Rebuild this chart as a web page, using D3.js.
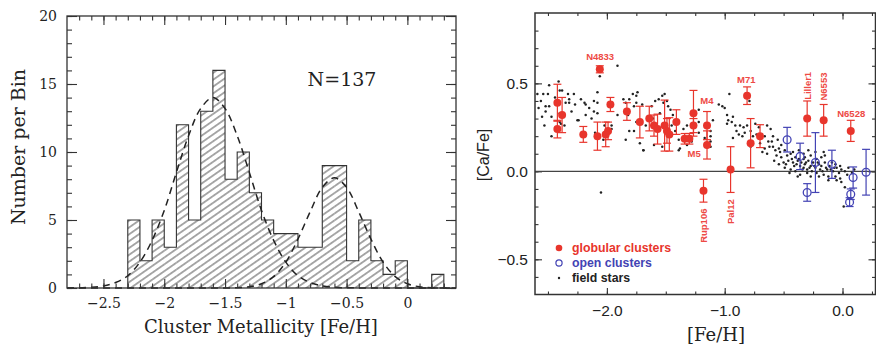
<!DOCTYPE html>
<html><head><meta charset="utf-8">
<script src="https://cdn.jsdelivr.net/npm/d3@7"></script>
<style>body{margin:0;background:#fff}</style>
</head><body>
<svg id="c" width="876" height="346" xmlns="http://www.w3.org/2000/svg"></svg>
<script>
// ---------- Left panel data: histogram of cluster metallicities ----------
const binStarts = [-2.3,-2.2,-2.1,-2.0,-1.9,-1.8,-1.7,-1.6,-1.5,-1.4,-1.3,-1.2,-1.1,-1.0,-0.9,-0.8,-0.7,-0.6,-0.5,-0.4,-0.3,-0.2,-0.1,0.0,0.1,0.2];
const binCounts = [5,2,5,3,12,5,13,16,8,10,7,5,4,4,3,3,9,9,2,5,2,1,2,0,0,1];
const binWidth = 0.1;
const fitFe = [-2.8,-2.7,-2.6,-2.5,-2.4,-2.3,-2.2,-2.1,-2.0,-1.9,-1.8,-1.7,-1.6,-1.5,-1.4,-1.3,-1.2,-1.1,-1.0,-0.9,-0.8,-0.7,-0.6,-0.5,-0.4,-0.3,-0.2,-0.1,0.0,0.1,0.2,0.3,0.4];
const fitMetalPoor = [0.005,0.02,0.05,0.15,0.4,0.9,1.9,3.5,5.7,8.5,11.2,13.2,14.0,13.2,11.2,8.5,5.7,3.5,1.9,0.9,0.4,0.15,0.05,0.02,0.005,0,0,0,0,0,0,0,0];
const fitMetalRich = [0,0,0,0,0,0,0,0,0,0,0,0,0,0.005,0.02,0.09,0.31,0.84,1.9,3.6,5.6,7.4,8.1,7.4,5.6,3.6,1.9,0.84,0.31,0.09,0.02,0.005,0];
const histXTicks = [-2.5,-2,-1.5,-1,-0.5,0];
const histYTicks = [0,5,10,15,20];
const histTitleN = "N=137";

// ---------- Right panel data: [Ca/Fe] vs [Fe/H] ----------
const gcFe  = [-2.42,-2.42,-2.38,-2.20,-2.08,-2.06,-2.01,-1.99,-1.97,-1.83,-1.72,-1.64,-1.60,-1.57,-1.51,-1.49,-1.47,-1.41,-1.34,-1.30,-1.265,-1.265,-1.15,-1.15,-1.18,-0.95,-0.81,-0.78,-0.70,-0.30,-0.16,0.07];
const gcCa  = [0.39,0.24,0.32,0.21,0.20,0.58,0.21,0.23,0.38,0.34,0.28,0.30,0.26,0.24,0.26,0.23,0.21,0.28,0.185,0.185,0.33,0.26,0.26,0.15,-0.11,0.01,0.43,0.16,0.20,0.30,0.29,0.23];
const gcErr = [0.105,0.05,0.10,0.045,0.08,0.02,0.07,0.05,0.04,0.05,0.09,0.07,0.06,0.085,0.145,0.07,0.095,0.07,0.03,0.03,0.13,0.04,0.08,0.08,0.065,0.13,0.05,0.14,0.065,0.10,0.09,0.06];
const ocFe  = [-0.47,-0.36,-0.30,-0.23,-0.09,0.09,0.07,0.06,0.20];
const ocCa  = [0.18,0.085,-0.12,0.05,0.04,-0.035,-0.13,-0.175,-0.005];
const ocErr = [0.07,0.075,0.05,0.17,0.08,0.06,0.03,0.025,0.13];
const fieldStars = [
[-2.59,0.44],[-2.54,0.44],[-2.50,0.44],[-2.49,0.49],[-2.41,0.51],[-2.40,0.46],[-2.38,0.46],[-2.33,0.44],[-2.28,0.44],[-2.32,0.41],
[-2.32,0.39],[-2.52,0.37],[-2.49,0.37],[-2.35,0.39],[-2.52,0.34],[-2.47,0.31],[-2.40,0.33],[-2.40,0.28],[-2.39,0.27],[-2.47,0.20],
[-2.36,0.26],[-2.25,0.29],[-2.24,0.29],[-2.19,0.39],[-2.18,0.38],[-2.18,0.32],[-2.11,0.40],[-2.08,0.39],[-2.11,0.34],[-2.08,0.33],
[-2.06,0.54],[-2.08,0.45],[-2.02,0.26],[-2.03,0.18],[-1.96,0.26],[-1.96,0.24],[-1.91,0.60],[-1.91,0.32],[-1.86,0.41],[-1.81,0.41],
[-1.84,0.39],[-1.78,0.44],[-1.75,0.43],[-1.74,0.45],[-1.77,0.37],[-1.70,0.38],[-1.75,0.39],[-1.82,0.32],[-1.75,0.28],[-1.81,0.23],
[-1.77,0.23],[-1.84,0.18],[-1.72,0.16],[-1.69,0.12],[-1.67,0.26],[-2.05,-0.12],
[-2.58,0.36],[-2.56,0.40],[-2.55,0.31],[-2.53,0.26],[-2.44,0.42],[-2.30,0.34],[-2.27,0.38],[-2.22,0.41],[-2.15,0.36],[-2.13,0.30],[-2.10,0.22],
[-1.62,0.37],[-1.59,0.40],[-1.56,0.41],[-1.53,0.43],[-1.51,0.44],[-1.52,0.39],[-1.49,0.40],[-1.61,0.30],[-1.55,0.33],[-1.48,0.37],
[-1.46,0.35],[-1.44,0.32],[-1.45,0.26],[-1.42,0.23],[-1.39,0.18],[-1.35,0.24],[-1.32,0.26],[-1.39,0.12],[-1.32,0.15],[-1.22,0.22],
[-1.22,0.28],[-1.22,0.35],[-1.12,0.23],[-1.12,0.20],[-1.12,0.17],[-1.12,0.14],[-1.10,0.29],[-1.05,0.38],[-1.02,0.37],[-1.00,0.36],
[-0.96,0.44],[-0.98,0.32],[-0.97,0.29],[-0.94,0.28],[-0.93,0.31],[-0.91,0.26],[-0.98,0.27],[-0.90,0.23],[-0.87,0.26],[-0.88,0.21],
[-0.84,0.25],[-0.85,0.20],[-0.83,0.22],[-0.81,0.26],[-0.93,0.19],[-0.76,0.20],[-0.78,0.23],[-0.74,0.27],[-0.73,0.21],[-0.71,0.25],
[-0.70,0.16],[-0.68,0.11],[-0.66,0.20],[-0.64,0.26],[-0.63,0.17],[-0.79,0.40],[-0.64,0.10],[-0.78,0.14],
[-1.69,0.12],[-1.60,0.15],[-1.53,0.14],[-1.38,0.13],[-1.28,0.17],[-1.17,0.19],
[-0.60,0.17],[-0.59,0.14],[-0.57,0.12],[-0.54,0.13],[-0.53,0.11],[-0.56,0.09],[-0.52,0.08],[-0.49,0.12],[-0.47,0.09],[-0.46,0.06],
[-0.44,0.10],[-0.43,0.07],[-0.42,0.05],[-0.40,0.08],[-0.39,0.04],[-0.37,0.07],[-0.36,0.03],[-0.35,0.05],[-0.33,0.07],[-0.33,0.02],
[-0.32,0.04],[-0.30,0.01],[-0.29,0.06],[-0.27,0.03],[-0.26,0.00],[-0.25,0.05],[-0.23,0.02],[-0.22,-0.01],[-0.20,0.04],[-0.19,0.01],
[-0.18,0.03],[-0.16,-0.02],[-0.15,0.05],[-0.13,0.01],[-0.12,-0.03],[-0.11,0.03],[-0.08,0.00],[-0.06,-0.03],[-0.05,0.02],[-0.03,-0.01],
[-0.02,-0.04],[-0.01,0.01],[0.02,0.00],[0.04,-0.02],[-0.50,0.05],[-0.54,0.04],[-0.49,0.02],[-0.44,0.01],[-0.42,0.11],[-0.37,0.12],
[-0.33,0.10],[-0.27,0.09],[-0.22,0.07],[-0.18,0.08],[-0.15,0.09],[-0.09,0.05],[-0.06,0.04],[-0.02,0.03],[0.05,0.02],[-0.27,-0.03],
[-0.36,-0.02],[-0.40,0.00],[-0.05,-0.05],[-0.01,-0.06],[0.02,-0.09],[0.01,-0.20],[-0.32,0.08],[-0.23,0.11],[-0.16,0.11],[-0.29,0.12],
[-0.59,0.20],[-0.61,0.24],[-0.48,0.04],[-0.41,0.03],[-0.38,0.06],[-0.34,0.01],[-0.31,0.05],[-0.28,0.02],[-0.24,0.03],[-0.21,0.05],
[-0.17,0.00],[-0.14,0.02],[-0.10,0.01],[-0.07,0.02],[0.08,-0.01],[0.10,0.01],[-0.52,0.15],[-0.55,0.18],[-0.62,0.14],[-0.66,0.13],
[-0.58,0.06],[-0.45,-0.01],[-0.38,-0.03],[-0.30,-0.01],[-0.20,-0.03],[-0.12,-0.05]
];
const labelNames = ["N4833","M4","M5","M71","N6528","Liller1","N6553","Rup106","Pal12"];
const labelFe    = [-2.057,-1.151,-1.259,-0.817,0.074,-0.294,-0.161,-1.18,-0.947];
const labelCa    = [0.65,0.402,0.10,0.52,0.329,0.486,0.482,-0.309,-0.229];
const labelVertical = [false,false,false,false,false,true,true,true,true];
const scatterXTicks = [-2,-1,0];
const scatterYTicks = [-0.5,0,0.5];
const legendItems = ["globular clusters","open clusters","field stars"];

// ---------- drawing ----------
const svg = d3.select("#c");
const RED = "#e8352c", RED_LBL = "#ee4a45", BLUE = "#4343b4";

// Left panel
const L = {x0:67, x1:456, y0:16, y1:288};
const hx = d3.scaleLinear().domain([-2.8,0.4]).range([L.x0,L.x1]);
const hy = d3.scaleLinear().domain([0,20]).range([L.y1,L.y0]);

const defs = svg.append("defs");
const pat = defs.append("pattern").attr("id","hatch").attr("patternUnits","userSpaceOnUse")
  .attr("width",10).attr("height",5.6).attr("patternTransform","rotate(-35)");
pat.append("line").attr("x1",0).attr("x2",10).attr("y1",2.8).attr("y2",2.8)
  .attr("stroke","#3a3a3a").attr("stroke-width",0.9);

const gL = svg.append("g");
gL.selectAll("rect.bar").data(binStarts).join("rect").attr("class","bar")
  .attr("x",d=>hx(d)).attr("width",d=>hx(d+binWidth)-hx(d))
  .attr("y",(d,i)=>hy(binCounts[i])).attr("height",(d,i)=>hy(0)-hy(binCounts[i]))
  .attr("fill","url(#hatch)");

const outline = [[binStarts[0],0]];
binStarts.forEach((d,i)=>{ outline.push([d,binCounts[i]]); outline.push([d+binWidth,binCounts[i]]); });
outline.push([binStarts[binStarts.length-1]+binWidth,0]);
gL.append("path").attr("d",d3.line().x(d=>hx(d[0])).y(d=>hy(d[1]))(outline))
  .attr("fill","none").attr("stroke","#333").attr("stroke-width",1.1);

const fitLine = d3.line().x((d,i)=>hx(fitFe[i])).y(d=>hy(d)).curve(d3.curveCatmullRom);
[fitMetalPoor,fitMetalRich].forEach(arr=>{
  gL.append("path").attr("d",fitLine(arr)).attr("fill","none").attr("stroke","#222")
    .attr("stroke-width",1.5).attr("stroke-dasharray","7,5");
});

function styleAxis(g, font, size, weight){
  g.select(".domain").remove();
  g.selectAll("line").attr("stroke","#333").attr("stroke-width",1.1);
  g.selectAll("text").attr("font-family",font).attr("font-size",size).attr("font-weight",weight||"normal").attr("fill","#222");
}
const minorHX = d3.range(-27,4).map(k=>k/10);
const minorHY = d3.range(0,21);
const fmtH = d => d3.format("")(d).replace("-","−");
gL.append("g").attr("transform",`translate(0,${L.y1})`).call(d3.axisBottom(hx).tickValues(minorHX).tickSize(-4.5).tickFormat("")).call(styleAxis);
gL.append("g").attr("transform",`translate(0,${L.y1})`).call(d3.axisBottom(hx).tickValues(histXTicks).tickSize(-9).tickPadding(10).tickFormat(fmtH)).call(g=>styleAxis(g,"DejaVu Serif",14));
gL.append("g").attr("transform",`translate(0,${L.y0})`).call(d3.axisTop(hx).tickValues(minorHX).tickSize(-4.5).tickFormat("")).call(styleAxis);
gL.append("g").attr("transform",`translate(0,${L.y0})`).call(d3.axisTop(hx).tickValues(histXTicks).tickSize(-9).tickFormat("")).call(styleAxis);
gL.append("g").attr("transform",`translate(${L.x0},0)`).call(d3.axisLeft(hy).tickValues(minorHY).tickSize(-5).tickFormat("")).call(styleAxis);
gL.append("g").attr("transform",`translate(${L.x0},0)`).call(d3.axisLeft(hy).tickValues(histYTicks).tickSize(-10).tickPadding(10).tickFormat(fmtH)).call(g=>styleAxis(g,"DejaVu Serif",14));
gL.append("g").attr("transform",`translate(${L.x1},0)`).call(d3.axisRight(hy).tickValues(minorHY).tickSize(-5).tickFormat("")).call(styleAxis);
gL.append("g").attr("transform",`translate(${L.x1},0)`).call(d3.axisRight(hy).tickValues(histYTicks).tickSize(-10).tickFormat("")).call(styleAxis);

gL.append("rect").attr("x",L.x0).attr("y",L.y0).attr("width",L.x1-L.x0).attr("height",L.y1-L.y0)
  .attr("fill","none").attr("stroke","#333").attr("stroke-width",1.3);

gL.append("text").attr("x",342).attr("y",86).attr("text-anchor","middle")
  .attr("font-family","DejaVu Serif").attr("font-size",19).attr("fill","#222").text(histTitleN);
gL.append("text").attr("x",(L.x0+L.x1)/2 - 0.5).attr("y",333).attr("text-anchor","middle")
  .attr("font-family","DejaVu Serif").attr("font-size",18).attr("fill","#222").text("Cluster Metallicity [Fe/H]");
gL.append("text").attr("transform",`translate(25,147) rotate(-90)`).attr("text-anchor","middle")
  .attr("font-family","DejaVu Serif").attr("font-size",19).attr("fill","#222").text("Number per Bin");

// Right panel
const R = {x0:535, x1:875.5, y0:13, y1:294.5};
const sx = d3.scaleLinear().domain([-2.61,0.28]).range([R.x0,R.x1]);
const sy = d3.scaleLinear().domain([-0.7,0.9]).range([R.y1,R.y0]);
const gR = svg.append("g");

const minorSX = d3.range(-10,2).map(k=>k/4);
const minorSY = d3.range(-6,9).map(k=>k/10);
const fmtS = d => d3.format(".1f")(d).replace("-","−");
gR.append("g").attr("transform",`translate(0,${R.y1})`).call(d3.axisBottom(sx).tickValues(minorSX).tickSize(-3).tickFormat("")).call(styleAxis);
gR.append("g").attr("transform",`translate(0,${R.y1})`).call(d3.axisBottom(sx).tickValues(scatterXTicks).tickSize(-6.5).tickPadding(10).tickFormat(fmtS)).call(g=>styleAxis(g,"Liberation Sans",15.5));
gR.append("g").attr("transform",`translate(0,${R.y0})`).call(d3.axisTop(sx).tickValues(minorSX).tickSize(-3).tickFormat("")).call(styleAxis);
gR.append("g").attr("transform",`translate(0,${R.y0})`).call(d3.axisTop(sx).tickValues(scatterXTicks).tickSize(-6.5).tickFormat("")).call(styleAxis);
gR.append("g").attr("transform",`translate(${R.x0},0)`).call(d3.axisLeft(sy).tickValues(minorSY).tickSize(-3.5).tickFormat("")).call(styleAxis);
gR.append("g").attr("transform",`translate(${R.x0},0)`).call(d3.axisLeft(sy).tickValues(scatterYTicks).tickSize(-7).tickPadding(7).tickFormat(fmtS)).call(g=>styleAxis(g,"Liberation Sans",15.5));
gR.append("g").attr("transform",`translate(${R.x1},0)`).call(d3.axisRight(sy).tickValues(minorSY).tickSize(-3.5).tickFormat("")).call(styleAxis);
gR.append("g").attr("transform",`translate(${R.x1},0)`).call(d3.axisRight(sy).tickValues(scatterYTicks).tickSize(-7).tickFormat("")).call(styleAxis);

gR.append("line").attr("x1",R.x0).attr("x2",R.x1).attr("y1",sy(0)).attr("y2",sy(0))
  .attr("stroke","#444").attr("stroke-width",1.4);

gR.selectAll("circle.fs").data(fieldStars).join("circle").attr("class","fs")
  .attr("cx",d=>sx(d[0])).attr("cy",d=>sy(d[1])).attr("r",1.25).attr("fill","#222");

function errBars(fe, ca, err, color){
  const g = gR.append("g").attr("stroke",color).attr("stroke-width",1.2).attr("fill","none");
  fe.forEach((f,i)=>{
    const x = sx(f), ya = sy(ca[i]+err[i]), yb = sy(ca[i]-err[i]);
    g.append("line").attr("x1",x).attr("x2",x).attr("y1",ya).attr("y2",yb);
    g.append("line").attr("x1",x-4).attr("x2",x+4).attr("y1",ya).attr("y2",ya);
    g.append("line").attr("x1",x-4).attr("x2",x+4).attr("y1",yb).attr("y2",yb);
  });
}
errBars(ocFe, ocCa, ocErr, BLUE);
gR.selectAll("circle.oc").data(ocFe).join("circle").attr("class","oc")
  .attr("cx",d=>sx(d)).attr("cy",(d,i)=>sy(ocCa[i])).attr("r",3.9)
  .attr("fill","none").attr("stroke",BLUE).attr("stroke-width",1.3);
errBars(gcFe, gcCa, gcErr, RED);
gR.selectAll("circle.gc").data(gcFe).join("circle").attr("class","gc")
  .attr("cx",d=>sx(d)).attr("cy",(d,i)=>sy(gcCa[i])).attr("r",4).attr("fill",RED);

labelNames.forEach((n,i)=>{
  const x = sx(labelFe[i]), y = sy(labelCa[i]);
  gR.append("text").attr("transform", labelVertical[i] ? `translate(${x},${y}) rotate(-90)` : `translate(${x},${y})`)
    .attr("text-anchor","middle").attr("dy","0.35em")
    .attr("font-family","Liberation Sans").attr("font-size",9.5).attr("font-weight","bold")
    .attr("fill",RED_LBL).text(n);
});

const legColors = [RED, BLUE, "#222"];
legendItems.forEach((t,i)=>{
  const y = 248 + i*15;
  if(i===0) gR.append("circle").attr("cx",559).attr("cy",y).attr("r",3.3).attr("fill",RED);
  if(i===1) gR.append("circle").attr("cx",559).attr("cy",y).attr("r",3.1).attr("fill","none").attr("stroke",BLUE).attr("stroke-width",1.2);
  if(i===2) gR.append("circle").attr("cx",559).attr("cy",y).attr("r",1.2).attr("fill","#222");
  gR.append("text").attr("x",572).attr("y",y).attr("dy","0.35em")
    .attr("font-family","Liberation Sans").attr("font-size",12.3).attr("font-weight","bold")
    .attr("fill",legColors[i]).text(t);
});

gR.append("rect").attr("x",R.x0).attr("y",R.y0).attr("width",R.x1-R.x0).attr("height",R.y1-R.y0)
  .attr("fill","none").attr("stroke","#333").attr("stroke-width",1.5);

gR.append("text").attr("transform",`translate(489,155) rotate(-90)`).attr("text-anchor","middle")
  .attr("font-family","Liberation Sans").attr("font-size",16).attr("fill","#222").text("[Ca/Fe]");
gR.append("text").attr("x",716).attr("y",341).attr("text-anchor","middle")
  .attr("font-family","DejaVu Serif").attr("font-size",18).attr("fill","#222").text("[Fe/H]");
</script>
</body></html>
